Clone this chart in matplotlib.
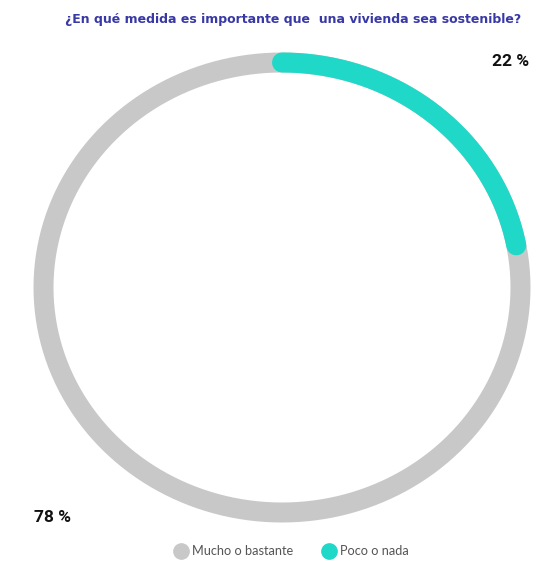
import numpy as np
import matplotlib
matplotlib.use("Agg")
import matplotlib.pyplot as plt
from matplotlib.lines import Line2D

# Data
categories = ["Mucho o bastante", "Poco o nada"]
values = [78, 22]
labels = ["78 %", "22 %"]
colors = ["#c8c8c8", "#20d8c8"]
title = "¿En qué medida es importante que  una vivienda sea sostenible?"

W, H = 552, 574
fig = plt.figure(figsize=(W / 100, H / 100), dpi=100)

# ring geometry in pixels (from top-left)
cx, cy = 282, 287.5
rx, ry = 238.5, 225.0
ax = fig.add_axes([(cx - rx) / W, 1 - (cy + ry) / H, 2 * rx / W, 2 * ry / H])
ax.set_xlim(-1, 1)
ax.set_ylim(-1, 1)
ax.axis("off")

lw = 20 * 72 / 100
total = sum(values)
start = np.pi / 2
# full grey ring, seam hidden under the teal cap at the top
t = np.linspace(start, start - 2 * np.pi, 721)
ax.plot(np.cos(t), np.sin(t), color=colors[0], lw=lw, solid_capstyle="butt",
        clip_on=False)
# teal arc, clockwise from the top
end = start - 2 * np.pi * values[1] / total
ta = np.linspace(start, end, 200)
ax.plot(np.cos(ta), np.sin(ta), color=colors[1], lw=lw, solid_capstyle="round",
        clip_on=False)

fig.text(293 / W, 1 - 19 / H, title, ha="center", va="center",
         fontsize=9.0, fontweight="bold", color="#3838a6", family="DejaVu Sans")

fig.text(511 / W, 1 - 61 / H, labels[1], ha="center", va="center",
         fontsize=12.5, fontweight="bold", color="#111111", family="Roboto")
fig.text(52 / W, 1 - 518 / H, labels[0], ha="center", va="center",
         fontsize=12.5, fontweight="bold", color="#111111", family="Roboto")

handles = [Line2D([], [], marker="o", ls="none", markersize=11,
                  markerfacecolor=c, markeredgecolor=c) for c in colors]
fig.legend(handles, categories, loc="center", bbox_to_anchor=(290 / W, 1 - 551 / H),
           ncol=2, frameon=False, handletextpad=0.05, columnspacing=2.0,
           handlelength=1.6, prop={"family": "Lato", "size": 9.2},
           labelcolor="#555555")

fig.savefig("out.png", dpi=100)
